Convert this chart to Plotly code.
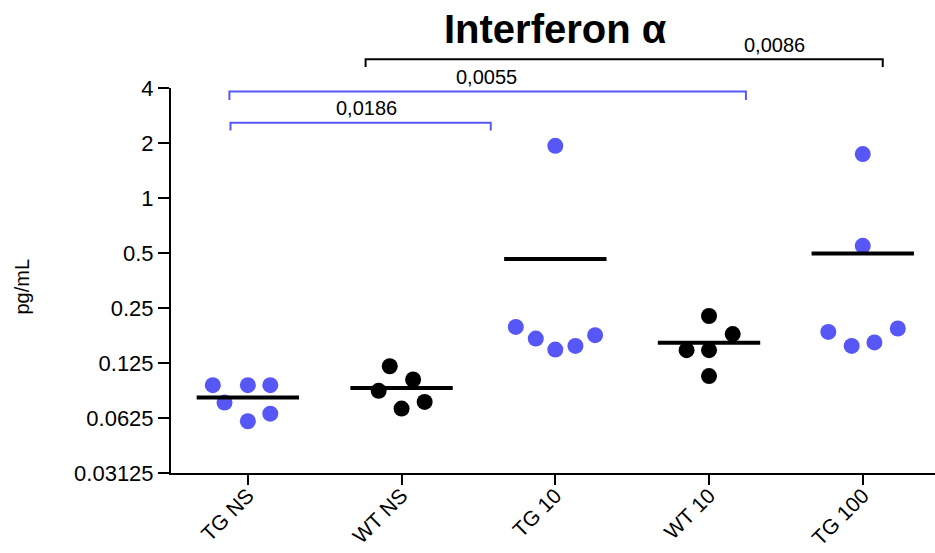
import numpy as np
import plotly.graph_objects as go

# Groups and measured Interferon-alpha levels (pg/mL)
categories = ["TG NS", "WT NS", "TG 10", "WT 10", "TG 100"]
tg_ns = [0.0945, 0.0945, 0.0945, 0.076, 0.066, 0.060]
wt_ns = [0.120, 0.1015, 0.088, 0.0765, 0.0704]
tg_10 = [1.93, 0.197, 0.170, 0.148, 0.155, 0.1775]
wt_10 = [0.226, 0.180, 0.147, 0.147, 0.106]
tg_100 = [1.74, 0.547, 0.185, 0.155, 0.162, 0.193]

# Horizontal scatter spread of each dot within its column (category units)
jitter_tg_ns = [-0.228, 0.0, 0.146, -0.152, 0.146, 0.0]
jitter_wt_ns = [-0.077, 0.075, -0.149, 0.150, 0.0]
jitter_tg_10 = [0.0, -0.257, -0.127, 0.0, 0.131, 0.259]
jitter_wt_10 = [0.0, 0.154, -0.146, 0.0, 0.0]
jitter_tg_100 = [0.0, 0.0, -0.224, -0.072, 0.076, 0.228]

# Y axis ticks (log2 spacing)
y_ticks = [0.03125, 0.0625, 0.125, 0.25, 0.5, 1, 2, 4]
y_ticklabels = ["0.03125", "0.0625", "0.125", "0.25", "0.5", "1", "2", "4"]

# Pairwise comparisons: (left, right, p-value text, label position, colour key)
comparisons = [
    (-0.113, 1.58, "0,0186", 0.771, "blue"),
    (-0.12, 3.24, "0,0055", 1.554, "blue"),
    (0.766, 4.13, "0,0086", 3.428, "black"),
]

BLUE = "#5757F6"
BLACK = "#000000"
FONT = "Arial, Liberation Sans, sans-serif"

groups = [tg_ns, wt_ns, tg_10, wt_10, tg_100]
jitters = [jitter_tg_ns, jitter_wt_ns, jitter_tg_10, jitter_wt_10, jitter_tg_100]
colors = [BLUE, BLACK, BLUE, BLACK, BLUE]

fig = go.Figure()

for i, (vals, jit, col) in enumerate(zip(groups, jitters, colors)):
    fig.add_trace(go.Scatter(
        x=[i + j for j in jit], y=vals, mode="markers",
        marker=dict(size=16, color=col, line=dict(width=0)),
        showlegend=False, hoverinfo="y",
    ))
    m = float(np.mean(vals))
    fig.add_trace(go.Scatter(
        x=[i - 0.333, i + 0.333], y=[m, m], mode="lines",
        line=dict(color=BLACK, width=4), showlegend=False, hoverinfo="skip",
    ))

# Significance brackets above the plot area (paper y coordinates)
bracket_rows = [(0.9099, 0.8896, 0.9468), (0.9909, 0.9688, 1.0273), (1.0745, 1.0545, 1.1117)]
for (x0, x1, txt, xl, ck), (yt, yb, ylab) in zip(comparisons, bracket_rows):
    c = BLUE if ck == "blue" else BLACK
    fig.add_shape(type="path", xref="x", yref="paper",
                  path=f"M {x0},{yb} L {x0},{yt} L {x1},{yt} L {x1},{yb}",
                  line=dict(color=c, width=2))
    fig.add_annotation(x=xl, y=ylab, xref="x", yref="paper", text=txt,
                       showarrow=False, xanchor="center", yanchor="middle",
                       font=dict(family=FONT, size=20, color=BLACK))

fig.add_annotation(x=2.0, y=1.1532, xref="x", yref="paper", text="<b>Interferon α</b>",
                   showarrow=False, xanchor="center", yanchor="middle",
                   font=dict(family=FONT, size=40, color=BLACK))

fig.add_annotation(x=-0.1963, y=0.4844, xref="paper", yref="paper", text="pg/mL",
                   textangle=-90, showarrow=False, xanchor="center", yanchor="middle",
                   font=dict(family=FONT, size=20, color=BLACK))

fig.update_layout(
    width=935, height=553,
    margin=dict(l=171, r=0, t=88, b=80, autoexpand=False),
    paper_bgcolor="white", plot_bgcolor="white",
    font=dict(family=FONT, color=BLACK),
    xaxis=dict(
        range=[-0.5, 4.47], tickmode="array", tickvals=list(range(len(categories))),
        ticktext=categories, tickangle=-45, ticks="outside", ticklen=10, tickwidth=2,
        tickcolor=BLACK, showline=True, linecolor=BLACK, linewidth=2, automargin=False,
        showgrid=False, zeroline=False, tickfont=dict(size=21, family=FONT),
        ticklabelstandoff=-10,
    ),
    yaxis=dict(
        type="log", range=[np.log10(0.03125), np.log10(4)],
        tickmode="array", tickvals=y_ticks, ticktext=y_ticklabels, automargin=False,
        ticks="outside", ticklen=11, tickwidth=2, tickcolor=BLACK,
        showline=True, linecolor=BLACK, linewidth=2, showgrid=False, zeroline=False,
        tickfont=dict(size=22, family=FONT),
    ),
)

fig.write_html("out.html")
